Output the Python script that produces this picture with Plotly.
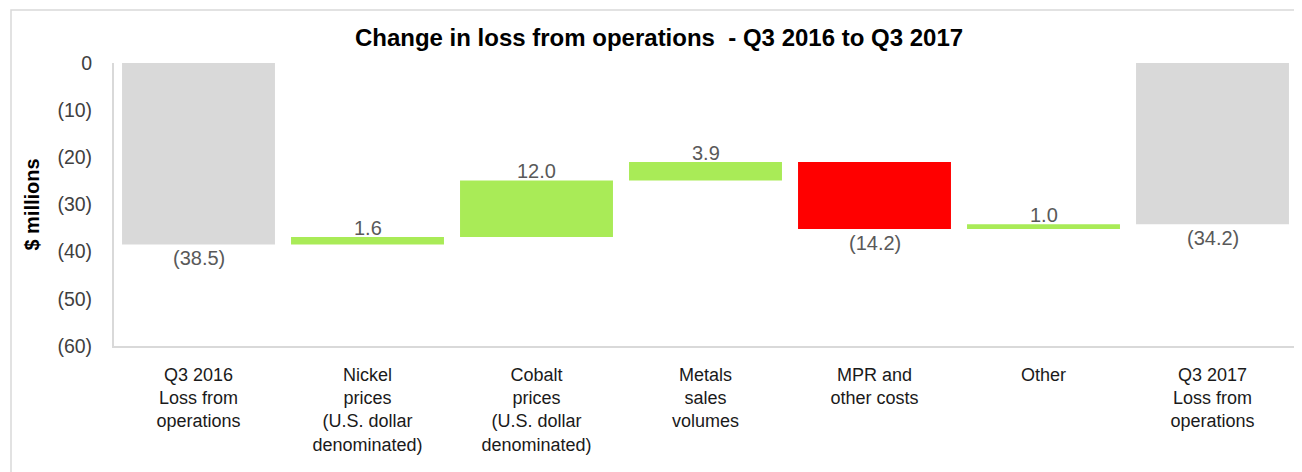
import plotly.graph_objects as go

categories = [
    "Q3 2016<br>Loss from<br>operations",
    "Nickel<br>prices<br>(U.S. dollar<br>denominated)",
    "Cobalt<br>prices<br>(U.S. dollar<br>denominated)",
    "Metals<br>sales<br>volumes",
    "MPR and<br>other costs",
    "Other",
    "Q3 2017<br>Loss from<br>operations",
]
measures = ["total", "delta", "delta", "delta", "delta", "delta", "total"]
values = [-38.5, 1.6, 12.0, 3.9, -14.2, 1.0, -34.2]
tick_vals = [0, -10, -20, -30, -40, -50, -60]
tick_text = ["0", "(10)", "(20)", "(30)", "(40)", "(50)", "(60)"]

GRAY = "#d9d9d9"
GREEN = "#a9eb57"
RED = "#ff0000"

bases, heights, colors, labels, ends, above = [], [], [], [], [], []
running = 0.0
for m, v in zip(measures, values):
    if m == "total":
        bases.append(0)
        heights.append(v)
        colors.append(GRAY)
        running = v
        ends.append(v)
        above.append(False)
    else:
        bases.append(running)
        heights.append(v)
        colors.append(GREEN if v >= 0 else RED)
        running += v
        ends.append(running)
        above.append(v >= 0)
    labels.append(f"({abs(v):.1f})" if v < 0 else f"{v:.1f}")

FONT = "Liberation Sans, Arial, sans-serif"
W, H = 1302, 472
L, R, T, B = 106, 13, 55, 134
PW, PH = W - L - R, H - T - B

fig = go.Figure(go.Bar(
    x=categories, y=heights, base=bases,
    marker=dict(color=colors, line=dict(width=0)),
    cliponaxis=False, hoverinfo="skip",
))

annotations = [
    dict(x=c, y=e, xref="x", yref="y", text=t, showarrow=False,
         yanchor="middle", yshift=(9 if a else -13.5),
         font=dict(family=FONT, size=20, color="#595959"))
    for c, e, t, a in zip(categories, ends, labels, above)
]

fig.update_layout(
    width=W, height=H,
    margin=dict(l=L, r=R, t=T, b=B),
    paper_bgcolor="white", plot_bgcolor="white",
    showlegend=False, bargap=0.095,
    font=dict(family=FONT, size=18, color="#262626"),
    title=dict(
        text="<b>Change in loss from operations  - Q3 2016 to Q3 2017</b>",
        x=0.5, xref="container", xanchor="center",
        y=1 - 30 / H, yref="container", yanchor="middle",
        font=dict(family=FONT, size=24, color="#000000"),
    ),
    xaxis=dict(
        showline=True, linecolor=GRAY, linewidth=2, ticks="",
        ticklabelstandoff=11,
        tickfont=dict(family=FONT, size=18, color="#1a1a1a"),
        showgrid=False, zeroline=False,
    ),
    yaxis=dict(
        range=[-60, 0], tickvals=tick_vals, ticktext=tick_text,
        showline=True, linecolor=GRAY, linewidth=2, ticks="",
        ticklabelstandoff=16,
        tickfont=dict(family=FONT, size=19.5, color="#404040"),
        showgrid=False, zeroline=False,
        title=dict(text="<b>$ millions</b>", standoff=12,
                   font=dict(family=FONT, size=20, color="#000000")),
    ),
    annotations=annotations,
    shapes=[dict(
        type="rect", xref="paper", yref="paper",
        x0=(3 - L) / PW, x1=(W + 20 - L) / PW,
        y0=(H - B - (H + 20)) / PH, y1=(H - B - 2) / PH,
        line=dict(color=GRAY, width=1.5), fillcolor="rgba(0,0,0,0)", layer="below",
    )],
)

fig.write_html("out.html")
